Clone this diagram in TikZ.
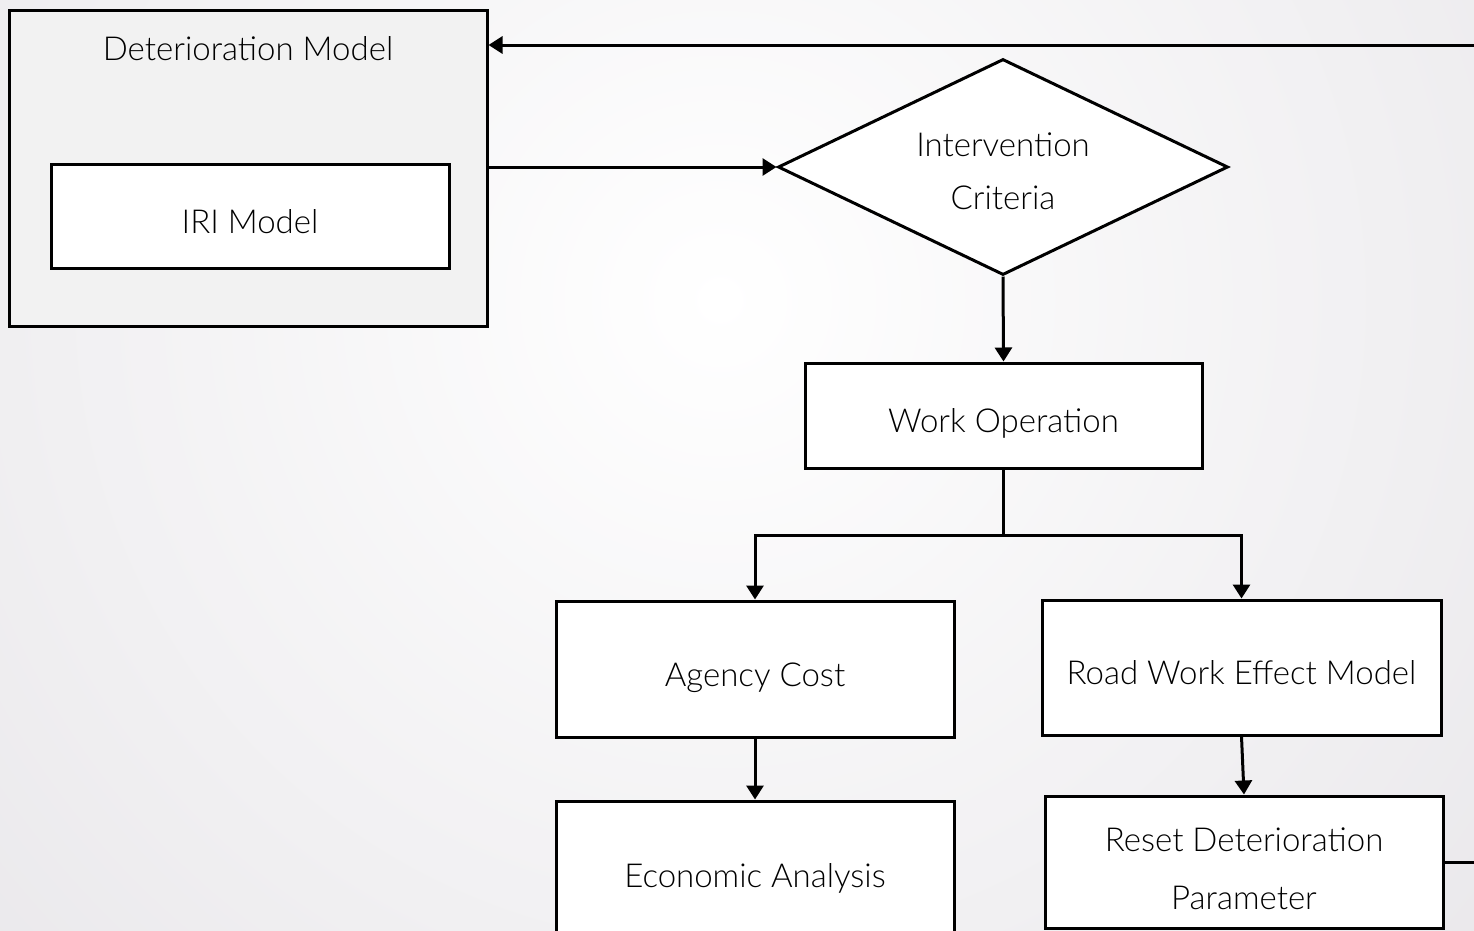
\documentclass[tikz,border=0pt]{standalone}
\usepackage{fontspec}
\setmainfont{Lato Light}
\usetikzlibrary{shapes.geometric,arrows.meta}
\definecolor{bgout}{RGB}{214,211,217}
\definecolor{panel}{RGB}{242,242,242}
\tikzset{
  textset/.style={font=\fontsize{33}{53}\selectfont, text height=34pt, text depth=0pt},
  box/.style={draw=black, line width=3pt, fill=white, inner sep=0pt, align=center, textset},
  label/.style={inner sep=0pt, textset},
  link/.style={line width=3pt, -{Triangle[width=17pt,length=14pt]}},
  wire/.style={line width=3pt}
}
\begin{document}
\begin{tikzpicture}[x=1pt,y=-1pt]
\useasboundingbox (0,0) rectangle (1474,930);
% soft radial backdrop
\begin{scope}
  \clip (0,0) rectangle (1474,930);
  \shade[inner color=white, outer color=bgout] (720,300) circle (1960);
\end{scope}

% deterioration model group
\node[box, fill=panel, minimum width=478pt, minimum height=316pt] (det) at (248,168) {};
\node[label] (dettitle) at (248,43) {Deterioration Model};
\node[box, minimum width=398pt, minimum height=104pt] (iri) at (250,216) {IRI Model};

% decision
\node[box, shape=diamond, minimum width=450pt, minimum height=216pt, aspect=2.08,
      text height=84pt, text depth=0pt] (crit) at (1003,167) {Intervention\\Criteria};

% process boxes
\node[box, minimum width=397pt, minimum height=105pt] (wo) at (1003.5,415.5) {Work Operation};
\node[box, minimum width=398pt, minimum height=136pt] (ac) at (755,669) {Agency Cost};
\node[box, minimum width=398pt, minimum height=138pt] (ea) at (755,870) {Economic Analysis};
\node[box, minimum width=399pt, minimum height=135pt] (rw) at (1241.5,667.5) {Road Work Effect Model};
\node[box, minimum width=398pt, minimum height=132pt,
      text height=94pt, text depth=0pt] (rdp) at (1244,862) {Reset Deterioration\\[5pt]Parameter};

% routing points
\coordinate (split) at (1003.5,535);
\coordinate (loopbot) at (1495,862);
\coordinate (looptop) at (1495,45);

% connectors
\draw[link] (det.east |- crit.west) -- (crit.west);
\draw[link] (crit.south) -- (wo.north);
\draw[wire] (wo.south) -- (split);
\draw[link] (split) -| (ac.north);
\draw[link] (split) -| (rw.north);
\draw[link] (ac.south) -- (ea.north);
\draw[link] (rw.south) -- (rdp.north);
\draw[link] (rdp.east) -- (loopbot) -- (looptop) -- (det.east |- looptop);
\end{tikzpicture}
\end{document}
